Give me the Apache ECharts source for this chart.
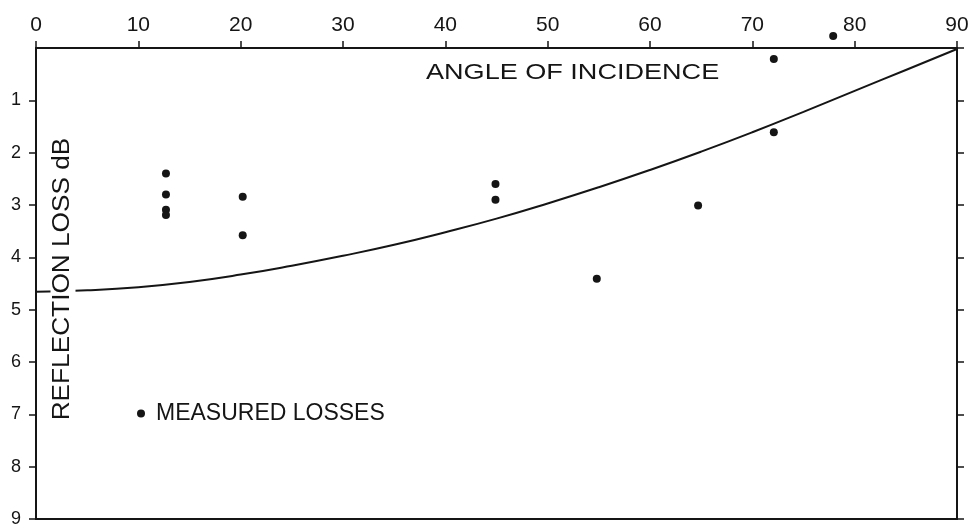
<!DOCTYPE html>
<html>
<head>
<meta charset="utf-8">
<script src="https://cdn.jsdelivr.net/npm/echarts@6/dist/echarts.min.js"></script>
<style>
html,body{margin:0;padding:0;background:#fff;}
#c{width:972px;height:528px;}
</style>
</head>
<body>
<div id="c"></div>
<script>
// Tick values
var xTicks = [0, 10, 20, 30, 40, 50, 60, 70, 80, 90];
var yTicks = [0, 1, 2, 3, 4, 5, 6, 7, 8, 9];

// Theoretical reflection loss curve (angle of incidence, dB)
var curveAngle = [0, 5, 10, 15, 20, 25, 30, 35, 40, 45, 50, 55, 60, 65, 70, 75, 80, 85, 90];
var curveLoss  = [4.66, 4.63, 4.57, 4.47, 4.33, 4.16, 3.97, 3.76, 3.52, 3.26, 2.97, 2.66, 2.33, 1.98, 1.61, 1.22, 0.82, 0.42, 0.02];

// Measured losses
var measAngle = [12.7, 12.7, 12.7, 12.7, 20.2, 20.2, 44.9, 44.9, 54.8, 64.7, 72.1, 72.1, 77.9];
var measLoss  = [2.40, 2.80, 3.09, 3.19, 2.84, 3.58, 2.60, 2.90, 4.41, 3.01, 0.21, 1.61, -0.23];

var xTitle = 'ANGLE OF INCIDENCE';
var yTitle = 'REFLECTION LOSS dB';
var measName = 'MEASURED LOSSES';

var ink = '#151515';
var font = '"Liberation Sans", Arial, Helvetica, sans-serif';

var curveData = curveAngle.map(function (a, i) { return [a, curveLoss[i]]; });
var measData = measAngle.map(function (a, i) { return [a, measLoss[i]]; });

var chart = echarts.init(document.getElementById('c'));
chart.setOption({
  backgroundColor: '#ffffff',
  animation: false,
  textStyle: { fontFamily: font, color: ink },
  grid: { left: 36, right: 15, top: 48, bottom: 8, containLabel: false },
  legend: {
    data: [measName],
    left: 137, top: 402, padding: 0,
    icon: 'circle', itemWidth: 20, itemHeight: 8, itemGap: 0,
    itemStyle: { opacity: 1, color: ink },
    textStyle: { fontFamily: font, fontSize: 23, color: ink }
  },
  xAxis: [{
    type: 'value', position: 'top', min: 0, max: 90, interval: 10,
    axisLine: { show: true, onZero: false, lineStyle: { color: ink, width: 2 } },
    axisTick: { show: true, inside: false, length: 7, lineStyle: { color: ink, width: 1.5 } },
    axisLabel: { show: true, fontSize: 21, margin: 12, color: ink, fontFamily: font },
    splitLine: { show: false }
  }, {
    type: 'value', position: 'bottom', min: 0, max: 90, interval: 10,
    axisLine: { show: true, onZero: false, lineStyle: { color: ink, width: 2 } },
    axisTick: { show: false }, axisLabel: { show: false }, splitLine: { show: false }
  }],
  yAxis: [{
    type: 'value', position: 'left', inverse: true, min: 0, max: 9, interval: 1,
    axisLine: { show: true, onZero: false, lineStyle: { color: ink, width: 2 } },
    axisTick: { show: true, inside: false, length: 7, lineStyle: { color: ink, width: 1.5 } },
    axisLabel: { show: true, showMinLabel: false, fontSize: 18, margin: 15, color: ink, fontFamily: font },
    splitLine: { show: false }
  }, {
    type: 'value', position: 'right', inverse: true, min: 0, max: 9, interval: 1,
    axisLine: { show: true, onZero: false, lineStyle: { color: ink, width: 2 } },
    axisTick: { show: true, inside: false, length: 7, lineStyle: { color: ink, width: 1.5 } },
    axisLabel: { show: false }, splitLine: { show: false }
  }],
  graphic: [{
    type: 'text', x: 426, y: 73, scaleX: 1.23, z: 100,
    style: { text: xTitle, font: '22px ' + font, fill: ink, textAlign: 'left', textVerticalAlign: 'middle' }
  }, {
    type: 'text', x: 63, y: 279, rotation: Math.PI / 2, scaleX: 1.14, z: 100,
    style: { text: yTitle, font: '23px ' + font, fill: ink, textAlign: 'center', textVerticalAlign: 'middle',
             backgroundColor: '#ffffff', padding: [1, 2, 1, 2] }
  }],
  series: [{
    type: 'line', name: 'curve', xAxisIndex: 0, yAxisIndex: 0,
    data: curveData, smooth: true, showSymbol: false, symbol: 'none',
    lineStyle: { color: ink, width: 2 }, z: 2
  }, {
    type: 'scatter', name: measName, xAxisIndex: 0, yAxisIndex: 0,
    data: measData, symbol: 'circle', symbolSize: 8, clip: false,
    itemStyle: { color: ink, opacity: 1 }, z: 3
  }]
});
</script>
</body>
</html>
